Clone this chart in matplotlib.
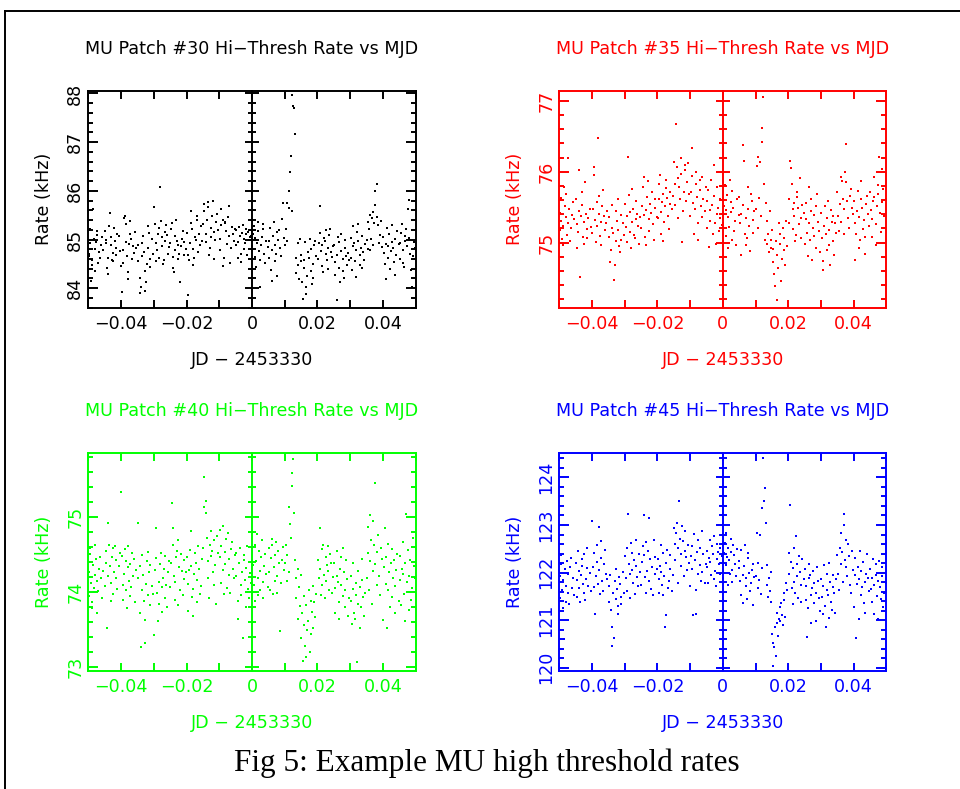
import numpy as np
import matplotlib
matplotlib.use("Agg")
import matplotlib.pyplot as plt
from matplotlib.lines import Line2D
from matplotlib.ticker import MultipleLocator, FixedLocator

# Readout times shared by all patches: 20 blocks of 0.005 d from JD - 2453330 = -0.05,
# each block holding 20 readings (offsets within the block in units of 1e-5 d).
block_start = -0.05
block_len = 0.005
sample_offsets = [
    [8, 27, 49, 61, 88, 112, 118, 145, 171, 196, 214, 233, 259, 270, 301, 332, 348, 377, 419, 462],
    [14, 31, 45, 78, 97, 109, 136, 168, 182, 199, 228, 251, 266, 291, 313, 347, 360, 389, 428, 471],
    [3, 36, 52, 70, 81, 117, 140, 149, 175, 207, 223, 238, 272, 284, 318, 339, 366, 402, 431, 455],
    [21, 33, 64, 92, 101, 126, 150, 179, 190, 219, 247, 258, 287, 309, 327, 356, 383, 396, 437, 478],
    [11, 40, 58, 73, 104, 121, 155, 166, 193, 221, 236, 262, 280, 305, 337, 351, 372, 410, 443, 466],
    [6, 24, 57, 83, 95, 131, 146, 160, 188, 215, 241, 255, 283, 298, 326, 359, 387, 415, 432, 486],
    [17, 39, 55, 76, 106, 124, 139, 170, 186, 211, 230, 264, 277, 306, 320, 353, 371, 399, 440, 469],
    [2, 29, 47, 80, 93, 115, 142, 163, 194, 209, 237, 249, 276, 308, 334, 349, 380, 404, 426, 458],
    [12, 35, 51, 68, 99, 128, 137, 167, 180, 213, 229, 256, 289, 300, 331, 362, 378, 408, 447, 474],
    [9, 22, 60, 74, 102, 119, 152, 161, 198, 217, 243, 261, 279, 314, 328, 354, 385, 413, 429, 463],
    [15, 41, 53, 85, 96, 129, 144, 172, 185, 206, 239, 253, 285, 296, 324, 345, 374, 400, 436, 481],
    [5, 30, 62, 71, 108, 120, 134, 169, 195, 212, 226, 260, 274, 303, 336, 350, 381, 418, 434, 467],
    [10, 34, 63, 84, 117, 136, 166, 187, 214, 236, 265, 286, 311, 339, 358, 391, 409, 441, 459, 485],
    [4, 28, 50, 79, 91, 123, 147, 158, 191, 216, 234, 257, 290, 302, 329, 357, 376, 405, 439, 460],
    [19, 32, 66, 77, 103, 132, 143, 174, 189, 218, 245, 254, 282, 310, 323, 352, 386, 398, 433, 476],
    [7, 38, 48, 82, 110, 125, 151, 164, 197, 208, 232, 267, 278, 299, 335, 346, 379, 411, 445, 470],
    [13, 25, 59, 75, 98, 127, 141, 176, 183, 220, 240, 252, 286, 307, 330, 361, 369, 403, 430, 464],
    [1, 34, 54, 69, 105, 116, 148, 173, 192, 205, 235, 263, 271, 304, 325, 355, 384, 412, 441, 473],
    [16, 43, 56, 87, 94, 130, 153, 162, 187, 222, 231, 265, 281, 312, 338, 358, 373, 407, 435, 483],
    [10, 26, 63, 72, 107, 114, 138, 178, 184, 210, 242, 250, 288, 297, 333, 363, 382, 406, 444, 490],
]
jd_offset = np.concatenate([
    block_start + i * block_len + np.asarray(offs) * 1e-5
    for i, offs in enumerate(sample_offsets)
])

patch_ids = [30, 35, 40, 45]
colors = ["#000000", "#ff0000", "#00ff00", "#0000ff"]

rate30 = [
    84.71, 84.66, 85.21, 84.93, 84.14, 84.47, 84.58, 85.62, 85.02, 84.81, 84.35, 84.95, 85.18, 85.10, 84.52, 84.74, 84.62, 84.88, 85.05, 84.78,
    85.17, 84.92, 84.99, 84.41, 84.29, 84.63, 85.28, 85.55, 85.05, 84.88, 84.58, 84.55, 84.72, 85.24, 84.97, 84.83, 84.69, 85.12, 85.08, 84.76,
    84.45, 83.92, 84.51, 84.78, 85.44, 85.48, 85.31, 84.95, 84.67, 84.33, 84.18, 84.90, 85.38, 85.12, 85.02, 84.61, 84.86, 84.72, 85.15, 84.83,
    84.88, 84.55, 84.21, 83.91, 84.03, 84.67, 84.93, 85.08, 84.74, 84.36, 83.95, 84.12, 84.49, 84.82, 85.27, 85.14, 84.60, 84.44, 85.02, 84.71,
    85.67, 85.31, 84.92, 84.55, 84.78, 85.12, 85.24, 84.63, 86.07, 85.38, 85.05, 84.87, 84.49, 84.58, 85.16, 84.96, 85.29, 85.09, 84.71, 84.84,
    84.93, 85.21, 85.34, 84.65, 84.42, 84.34, 84.79, 85.08, 85.41, 84.97, 84.59, 84.88, 84.71, 84.12, 84.86, 85.02, 85.18, 84.95, 84.68, 84.81,
    85.14, 84.69, 83.87, 84.58, 84.92, 85.33, 85.58, 85.22, 84.81, 84.47, 84.63, 85.05, 84.98, 85.41, 85.49, 84.75, 85.11, 84.89, 85.27, 84.96,
    85.31, 85.58, 85.72, 85.12, 84.95, 85.41, 85.77, 85.66, 84.68, 84.82, 85.05, 85.24, 85.49, 85.80, 85.15, 84.61, 84.99, 85.36, 85.53, 85.20,
    84.78, 85.02, 85.63, 85.29, 85.41, 84.45, 84.62, 85.35, 85.33, 85.18, 84.91, 85.47, 85.69, 85.07, 84.51, 84.83, 85.25, 85.12, 84.96, 85.22,
    85.19, 84.88, 84.63, 84.95, 85.26, 85.07, 84.54, 84.71, 85.13, 85.29, 85.02, 84.81, 84.92, 85.22, 85.11, 84.69, 85.16, 84.98, 85.05, 85.08,
    84.87, 85.12, 85.28, 85.03, 84.65, 84.44, 84.93, 85.36, 85.17, 84.76, 84.58, 84.02, 84.89, 85.06, 85.21, 85.31, 84.71, 84.52, 84.97, 84.84,
    84.63, 84.96, 85.24, 84.37, 84.14, 84.78, 85.08, 85.35, 84.89, 84.55, 84.71, 85.15, 84.26, 84.98, 85.19, 84.82, 84.67, 85.42, 85.74, 85.04,
    84.88, 85.21, 85.75, 84.96, 85.65, 85.99, 86.39, 86.72, 85.58, 87.97, 87.75, 87.70, 87.17, 84.63, 84.31, 84.92, 84.48, 84.19, 85.02, 84.55,
    84.68, 84.12, 83.77, 84.41, 84.57, 84.95, 84.03, 83.89, 84.26, 84.74, 84.62, 85.02, 84.81, 84.35, 84.08, 84.21, 84.49, 84.88, 84.97, 84.66,
    84.61, 84.92, 85.13, 85.68, 84.76, 84.45, 84.88, 84.33, 85.04, 84.97, 85.19, 84.71, 84.58, 84.39, 84.83, 85.09, 85.21, 84.74, 84.65, 84.86,
    84.89, 84.54, 84.27, 83.75, 84.68, 85.06, 84.95, 84.41, 84.13, 84.77, 85.11, 84.59, 84.36, 84.21, 84.82, 84.99, 84.66, 84.47, 84.73, 84.58,
    85.04, 84.62, 84.38, 84.87, 85.27, 84.93, 84.55, 84.24, 84.79, 85.15, 85.31, 84.96, 84.48, 84.69, 84.83, 85.08, 84.42, 84.74, 84.57, 84.91,
    84.98, 84.81, 85.37, 85.22, 85.51, 84.79, 85.02, 85.44, 85.56, 84.88, 85.33, 85.71, 85.99, 86.14, 85.47, 85.29, 84.92, 85.10, 85.38, 84.85,
    85.06, 84.72, 84.49, 84.18, 84.91, 85.24, 84.87, 84.63, 85.12, 84.39, 84.76, 84.95, 85.29, 84.83, 84.54, 84.27, 85.01, 84.69, 85.17, 84.90,
    84.61, 84.93, 85.14, 85.32, 84.78, 84.52, 84.44, 84.97, 85.08, 85.21, 84.86, 85.62, 85.81, 85.03, 84.71, 84.38, 84.02, 84.67, 84.95, 84.83,
]

rate35 = [
    75.18, 75.42, 75.63, 75.31, 75.05, 74.97, 75.24, 75.79, 75.52, 75.36, 75.68, 75.11, 75.28, 76.19, 75.47, 75.02, 75.21, 75.39, 75.57, 75.33,
    75.61, 75.26, 74.93, 75.15, 76.03, 75.44, 74.51, 75.37, 75.72, 75.53, 75.08, 74.98, 75.29, 75.86, 75.41, 75.19, 75.06, 75.34, 75.47, 75.22,
    75.13, 75.48, 76.07, 75.96, 75.32, 75.01, 75.24, 75.57, 76.48, 75.66, 75.41, 75.09, 74.96, 75.29, 75.52, 75.74, 75.37, 75.18, 75.27, 75.45,
    75.36, 75.08, 74.72, 74.89, 75.21, 75.53, 75.14, 74.47, 74.69, 75.44, 75.02, 75.31, 75.62, 75.18, 74.95, 74.86, 75.04, 75.39, 75.27, 75.11,
    75.54, 75.22, 75.01, 75.38, 76.21, 75.67, 75.43, 75.15, 74.92, 75.29, 75.76, 75.48, 75.11, 75.06, 75.33, 75.59, 75.41, 75.24, 74.98, 75.36,
    75.21, 75.52, 75.78, 75.93, 75.39, 75.08, 75.46, 74.97, 75.64, 75.87, 75.33, 75.17, 75.55, 75.42, 75.71, 75.26, 75.04, 75.49, 75.61, 75.36,
    75.34, 75.61, 75.82, 75.96, 75.12, 75.43, 75.57, 75.68, 75.02, 75.29, 75.51, 75.77, 75.89, 75.63, 75.38, 75.19, 75.55, 75.71, 75.47, 75.66,
    76.14, 75.82, 75.53, 76.67, 76.06, 75.91, 75.34, 75.78, 75.62, 76.19, 75.97, 75.01, 75.45, 75.72, 76.09, 76.03, 75.58, 75.86, 76.12, 75.69,
    75.38, 75.71, 76.33, 75.94, 75.56, 75.12, 75.47, 75.83, 75.99, 75.65, 75.28, 75.03, 75.89, 75.74, 75.51, 75.36, 75.92, 75.61, 75.44, 75.79,
    75.21, 75.58, 75.74, 74.94, 75.31, 75.46, 75.88, 75.53, 75.12, 76.09, 75.66, 75.27, 74.98, 75.41, 75.79, 75.49, 75.17, 75.35, 75.62, 75.25,
    75.28, 75.52, 75.81, 75.46, 75.09, 75.67, 74.93, 75.36, 75.22, 75.88, 75.57, 75.43, 75.04, 75.73, 75.49, 75.16, 75.31, 74.97, 75.62, 75.39,
    75.64, 75.27, 74.83, 75.41, 76.38, 75.53, 76.15, 75.12, 74.96, 75.35, 75.06, 75.78, 75.47, 75.23, 74.88, 75.69, 75.58, 75.32, 75.14, 75.44,
    75.48, 76.08, 75.21, 76.21, 75.63, 76.14, 75.37, 76.42, 76.62, 77.05, 75.82, 75.04, 75.56, 74.98, 75.31, 75.12, 74.87, 75.44, 75.03, 74.92,
    75.18, 74.91, 74.72, 74.55, 74.39, 75.02, 74.19, 74.83, 74.64, 75.27, 74.98, 75.12, 74.46, 74.77, 75.21, 75.06, 74.89, 74.69, 75.31, 74.95,
    75.61, 75.28, 76.15, 76.05, 75.83, 75.47, 75.19, 75.56, 75.38, 75.02, 75.11, 75.72, 75.64, 75.49, 75.26, 75.91, 75.07, 75.34, 75.53, 75.42,
    74.98, 75.33, 75.56, 75.14, 74.81, 75.78, 75.27, 75.03, 75.45, 75.62, 74.76, 75.21, 75.09, 75.39, 74.93, 75.51, 75.68, 75.29, 75.17, 74.87,
    75.42, 75.06, 74.74, 74.61, 75.23, 75.51, 75.12, 75.35, 74.89, 75.58, 75.18, 74.97, 74.68, 75.46, 75.29, 75.02, 75.38, 74.83, 75.27, 75.14,
    75.71, 75.38, 75.16, 75.54, 75.29, 75.93, 75.87, 75.62, 75.47, 75.12, 75.99, 76.39, 75.85, 75.58, 75.34, 75.21, 75.66, 75.76, 75.49, 75.41,
    75.58, 75.27, 74.76, 75.12, 75.44, 75.73, 75.36, 74.92, 75.03, 75.61, 75.87, 75.49, 75.19, 75.32, 74.84, 75.08, 75.55, 75.66, 75.41, 75.24,
    75.71, 75.46, 75.08, 75.33, 75.59, 75.93, 75.64, 74.97, 75.26, 75.52, 75.81, 75.68, 76.21, 75.42, 75.15, 75.57, 76.04, 75.76, 75.38, 75.61,
]

rate40 = [
    73.94, 74.27, 74.51, 74.58, 74.12, 73.78, 73.86, 74.36, 74.05, 74.22, 74.62, 74.44, 74.15, 73.72, 74.01, 74.31, 74.47, 74.19, 73.91, 74.28,
    74.08, 74.39, 74.55, 73.52, 74.21, 74.92, 74.63, 74.34, 73.88, 74.12, 74.47, 74.58, 73.97, 74.26, 74.61, 74.43, 74.18, 74.04, 74.35, 74.52,
    75.33, 74.48, 74.09, 73.89, 74.24, 74.57, 74.41, 74.02, 73.78, 74.33, 74.61, 74.15, 74.37, 73.94, 74.06, 74.52, 74.21, 74.44, 73.86, 74.29,
    74.92, 74.18, 74.35, 73.71, 73.26, 74.03, 74.49, 74.22, 73.88, 73.62, 73.31, 74.11, 74.41, 74.53, 73.95, 74.27, 73.82, 74.36, 74.08, 73.97,
    73.42, 74.29, 74.85, 74.45, 73.98, 73.61, 73.84, 74.13, 74.37, 74.52, 74.06, 73.73, 74.19, 74.31, 74.48, 73.92, 74.09, 73.79, 74.26, 74.41,
    74.07, 74.38, 75.19, 74.85, 74.62, 74.21, 73.89, 74.13, 74.46, 74.55, 74.69, 73.82, 74.33, 74.02, 74.51, 74.28, 73.95, 74.42, 74.17, 74.26,
    74.47, 74.11, 73.74, 74.29, 74.56, 74.35, 74.81, 73.93, 74.04, 73.68, 74.24, 74.52, 74.39, 73.86, 74.16, 74.61, 74.31, 73.97, 74.08, 74.44,
    74.58, 75.14, 75.54, 75.05, 75.22, 74.72, 74.41, 74.19, 73.92, 74.63, 74.48, 74.81, 74.55, 74.27, 74.09, 74.69, 74.36, 73.84, 74.74, 74.52,
    74.83, 74.46, 74.12, 74.61, 74.88, 74.29, 73.97, 74.37, 74.53, 74.71, 74.05, 74.79, 74.44, 74.22, 73.99, 74.57, 74.66, 74.31, 74.18, 74.49,
    74.52, 74.21, 73.87, 73.64, 74.38, 74.58, 74.09, 73.95, 74.27, 73.38, 74.43, 74.49, 74.16, 73.79, 74.32, 74.61, 74.04, 73.91, 74.25, 74.12,
    74.98, 74.36, 74.09, 73.88, 74.62, 74.41, 74.77, 74.19, 73.96, 74.55, 74.28, 74.02, 74.47, 74.69, 74.13, 73.91, 74.34, 74.51, 74.24, 74.07,
    74.58, 74.27, 74.03, 74.45, 74.71, 74.62, 73.97, 74.33, 74.14, 74.49, 74.67, 74.21, 73.99, 74.55, 74.38, 73.48, 74.12, 74.42, 74.60, 74.29,
    74.38, 74.62, 74.15, 74.49, 74.27, 75.14, 74.91, 74.72, 75.42, 75.59, 75.77, 75.05, 74.43, 74.18, 73.92, 74.31, 73.64, 74.07, 73.81, 74.22,
    73.38, 73.71, 73.07, 73.56, 73.94, 73.27, 73.13, 73.82, 73.49, 73.61, 74.02, 73.20, 73.44, 73.88, 73.73, 73.52, 74.08, 73.86, 73.66, 73.97,
    74.42, 74.18, 74.85, 74.31, 73.96, 74.09, 74.57, 74.63, 74.22, 73.92, 74.14, 74.47, 74.36, 74.61, 74.28, 74.03, 74.51, 74.39, 73.98, 74.20,
    74.38, 74.05, 73.72, 74.21, 74.54, 74.13, 73.86, 73.64, 74.31, 74.47, 74.09, 73.94, 74.58, 74.26, 73.79, 74.02, 74.42, 74.17, 73.68, 73.91,
    74.21, 73.88, 73.57, 74.04, 74.39, 73.72, 73.63, 73.96, 74.12, 73.06, 73.84, 74.28, 74.07, 73.51, 73.79, 74.44, 74.16, 73.93, 73.68, 73.99,
    74.18, 74.52, 74.87, 74.03, 74.41, 75.02, 74.69, 73.83, 74.28, 74.95, 74.62, 75.45, 74.37, 74.09, 74.53, 74.76, 74.21, 73.96, 74.58, 74.44,
    73.62, 74.33, 74.85, 74.11, 74.47, 73.51, 74.02, 74.64, 74.26, 73.79, 74.38, 74.57, 73.93, 74.19, 74.42, 73.71, 74.08, 74.29, 74.51, 73.87,
    74.48, 74.16, 73.82, 74.31, 74.67, 74.24, 73.97, 73.61, 74.39, 75.04, 74.13, 74.56, 73.75, 74.21, 74.43, 73.89, 74.05, 74.72, 74.35, 74.18,
]

rate45 = [
    121.47, 121.92, 122.18, 122.36, 121.63, 121.25, 121.84, 120.60, 122.07, 121.38, 121.71, 122.24, 121.97, 121.56, 121.33, 122.12, 122.31, 121.68, 121.89, 121.52,
    122.21, 121.84, 121.48, 122.46, 122.03, 121.67, 121.39, 121.95, 122.29, 122.14, 121.76, 121.58, 122.38, 121.43, 121.87, 122.09, 122.51, 121.72, 121.99, 121.61,
    123.08, 122.12, 122.41, 121.69, 121.13, 121.93, 122.58, 122.22, 121.76, 122.95, 122.06, 121.54, 122.67, 122.31, 121.82, 121.61, 122.19, 122.48, 121.97, 121.87,
    121.38, 121.72, 121.95, 121.21, 120.85, 120.46, 121.57, 120.62, 121.83, 121.44, 122.08, 121.66, 121.29, 121.12, 121.91, 121.76, 121.49, 121.33, 122.02, 121.58,
    122.34, 121.89, 121.62, 122.51, 123.24, 122.18, 121.96, 121.47, 122.63, 122.42, 122.05, 121.78, 122.27, 121.54, 122.69, 122.13, 121.91, 121.71, 122.38, 122.01,
    121.73, 122.22, 122.55, 123.20, 122.37, 121.91, 121.58, 122.64, 122.04, 122.46, 121.82, 123.15, 122.28, 121.66, 122.11, 121.53, 122.69, 122.33, 121.97, 122.08,
    122.29, 121.86, 121.57, 122.13, 122.58, 122.01, 121.74, 121.52, 122.42, 121.92, 120.85, 121.10, 122.21, 122.47, 121.68, 121.83, 122.36, 122.07, 121.61, 121.95,
    122.94, 122.61, 122.27, 122.83, 123.05, 122.52, 121.78, 123.50, 122.71, 122.39, 122.14, 122.97, 122.66, 121.93, 122.46, 122.88, 122.33, 122.05, 122.57, 122.21,
    121.71, 122.34, 122.56, 122.08, 121.10, 122.82, 122.27, 121.64, 121.12, 122.43, 122.69, 121.96, 122.15, 122.51, 121.83, 122.02, 122.87, 122.38, 121.77, 122.19,
    122.46, 122.12, 121.79, 122.31, 122.68, 122.23, 121.94, 122.55, 122.39, 121.86, 122.77, 122.04, 121.72, 122.29, 122.61, 122.43, 122.17, 121.98, 122.52, 122.35,
    121.88, 122.41, 122.63, 122.16, 122.84, 122.32, 121.73, 122.52, 122.27, 121.96, 122.71, 122.44, 122.05, 121.81, 122.58, 122.36, 122.19, 121.92, 122.49, 122.10,
    122.24, 121.83, 121.52, 122.47, 121.95, 121.36, 122.13, 122.58, 121.71, 121.88, 121.44, 122.31, 122.41, 121.99, 121.62, 121.77, 122.06, 121.31, 122.19, 121.91,
    121.92, 122.84, 121.67, 122.21, 121.85, 122.78, 121.54, 122.09, 123.35, 124.41, 123.50, 123.78, 123.05, 121.73, 122.16, 121.48, 121.88, 121.61, 122.02, 121.39,
    120.71, 120.52, 120.03, 120.44, 120.86, 120.25, 121.14, 120.93, 120.67, 121.02, 121.28, 120.98, 121.35, 121.11, 120.89, 121.57, 121.42, 121.06, 121.78, 121.63,
    122.42, 121.97, 123.41, 122.23, 121.68, 121.34, 122.09, 122.51, 121.81, 121.57, 122.76, 122.17, 121.92, 121.46, 122.34, 122.02, 121.73, 121.39, 122.28, 121.86,
    122.08, 121.71, 121.42, 120.65, 121.26, 121.88, 122.17, 121.94, 121.53, 120.94, 121.67, 122.03, 121.79, 121.35, 120.98, 121.58, 122.11, 121.82, 121.47, 121.19,
    121.86, 121.48, 121.13, 121.72, 122.15, 121.29, 120.85, 121.64, 121.97, 121.53, 121.05, 122.21, 121.81, 121.38, 121.22, 121.69, 121.94, 121.57, 121.16, 121.87,
    122.37, 121.98, 121.64, 122.52, 122.19, 122.83, 122.44, 121.81, 123.00, 123.23, 122.27, 122.68, 122.11, 121.92, 122.59, 122.34, 121.73, 121.56, 122.46, 122.05,
    121.28, 121.94, 122.31, 120.62, 121.76, 122.12, 121.87, 121.03, 122.45, 122.04, 121.52, 121.69, 122.23, 121.37, 121.81, 121.14, 121.98, 122.38, 121.89, 121.61,
    122.07, 121.66, 121.39, 121.88, 122.29, 121.74, 121.12, 122.18, 121.95, 121.51, 121.02, 121.83, 122.24, 121.69, 121.45, 122.11, 121.92, 121.27, 121.58, 121.79,
]

rates = [rate30, rate35, rate40, rate45]
y_limits = [(83.60, 88.05), (74.08, 77.14), (72.94, 75.86), (119.93, 124.52)]
x_limits = (-0.05, 0.05)

W, H = 960, 789
fig = plt.figure(figsize=(W / 100, H / 100), dpi=100)

# panel boxes in pixels: left, top, right, bottom
boxes = [
    (88.3, 91.0, 415.7, 307.7),
    (559.3, 91.0, 886.3, 307.7),
    (88.3, 452.7, 415.7, 671.0),
    (559.3, 452.7, 886.3, 671.0),
]

font = "DejaVu Sans"
fw = "normal"
fs = 12.6

def fmt_x(v):
    if abs(v) < 1e-9:
        return "0"
    s = f"{abs(v):.2f}"
    return ("\u2212" if v < 0 else "") + s

for pid, col, rate, ylim, (l, t, r, b) in zip(patch_ids, colors, rates, y_limits, boxes):
    rect = [l / W, 1 - b / H, (r - l) / W, (b - t) / H]
    ax = fig.add_axes(rect)
    ax.plot(jd_offset, rate, linestyle="none", marker="s", ms=1.7, mew=0, color=col)
    ax.set_xlim(*x_limits)
    ax.set_ylim(*ylim)
    for sp in ax.spines.values():
        sp.set_color(col)
        sp.set_linewidth(1.4)

    xt = [-0.04, -0.02, 0.0, 0.02, 0.04]
    ax.xaxis.set_major_locator(FixedLocator(xt))
    ax.xaxis.set_minor_locator(FixedLocator([-0.05, -0.03, -0.01, 0.01, 0.03, 0.05]))
    ax.set_xticklabels([fmt_x(v) for v in xt])
    lo, hi = ylim
    yt = list(range(int(np.ceil(lo)), int(np.floor(hi)) + 1))
    ax.yaxis.set_major_locator(FixedLocator(yt))
    ax.yaxis.set_minor_locator(MultipleLocator(0.2))
    ax.set_yticklabels([str(v) for v in yt])

    ax.tick_params(axis="both", which="both", direction="in", top=True, right=True,
                   color=col, labelcolor=col, width=1.4, labelsize=fs)
    ax.tick_params(axis="x", which="both", length=5.5, pad=5)
    ax.tick_params(axis="y", which="major", length=7, pad=3)
    ax.tick_params(axis="y", which="minor", length=3.6)
    for lab in ax.get_yticklabels():
        lab.set_rotation(90)
        lab.set_va("center")
        lab.set_ha("right")
    for lab in ax.get_xticklabels() + ax.get_yticklabels():
        lab.set_family(font)
        lab.set_weight(fw)

    hpx = b - t
    wpx = r - l
    ax.text(0.5, 1 + 42 / hpx, f"MU Patch #{pid} Hi\u2212Thresh Rate vs MJD",
            transform=ax.transAxes, ha="center", va="center", color=col,
            fontsize=fs, family=font, weight=fw)
    ax.text(0.5, -52 / hpx, "JD \u2212 2453330", transform=ax.transAxes,
            ha="center", va="center", color=col, fontsize=fs, family=font, weight=fw)
    ax.text(-44 / wpx, 0.5, "Rate (kHz)", transform=ax.transAxes, rotation=90,
            ha="center", va="center", color=col, fontsize=fs, family=font, weight=fw)

    # vertical divider at JD offset 0 with y ticks crossing it
    mid = fig.add_axes([(l + wpx / 2) / W, 1 - b / H, (wpx / 2) / W, hpx / H])
    mid.set_ylim(*ylim)
    mid.patch.set_visible(False)
    for name, sp in mid.spines.items():
        sp.set_visible(name == "left")
    mid.spines["left"].set_color(col)
    mid.spines["left"].set_linewidth(1.4)
    mid.set_xticks([])
    mid.yaxis.set_major_locator(FixedLocator(yt))
    mid.yaxis.set_minor_locator(MultipleLocator(0.2))
    mid.tick_params(axis="y", which="both", direction="inout", color=col, width=1.4,
                    labelleft=False)
    mid.tick_params(axis="y", which="major", length=10)
    mid.tick_params(axis="y", which="minor", length=5.5)

# page frame lines
fig.add_artist(Line2D([5 / W, 1.0], [1 - 11 / H, 1 - 11 / H], transform=fig.transFigure,
                      color="black", lw=1.4))
fig.add_artist(Line2D([5 / W, 5 / W], [0.0, 1 - 11 / H], transform=fig.transFigure,
                      color="black", lw=1.4))

fig.text(487 / W, 1 - 763 / H, "Fig 5: Example MU high threshold rates",
         ha="center", va="center", fontsize=22.5, family="Liberation Serif", color="black")

fig.savefig("out.png", dpi=100)
